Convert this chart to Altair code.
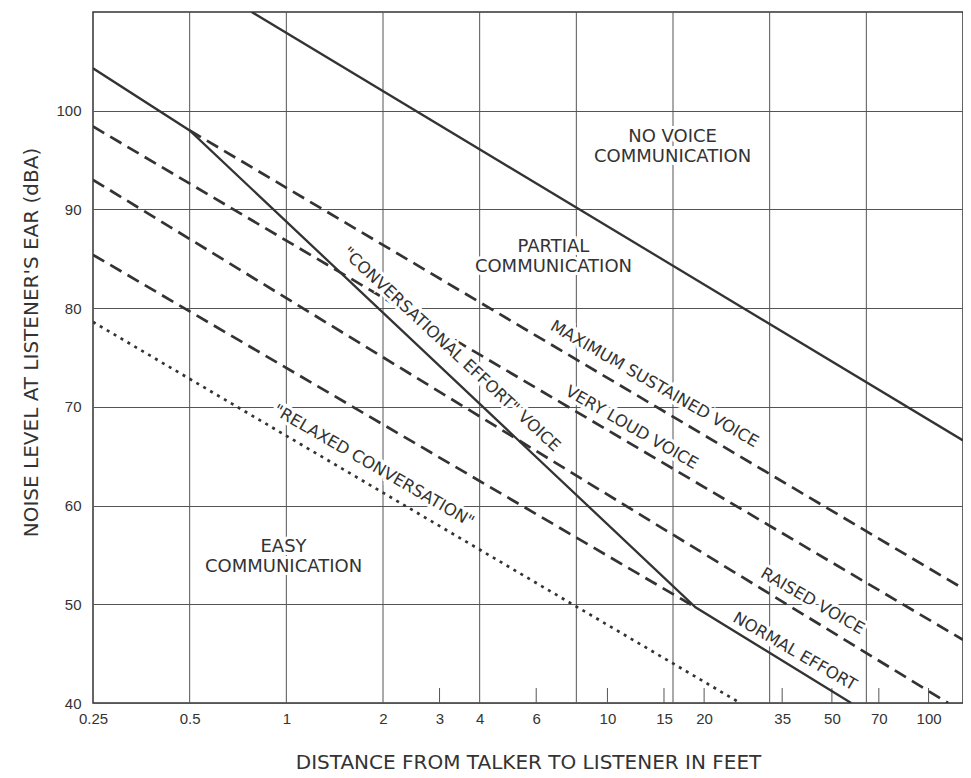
import altair as alt
import pandas as pd

# ---------------- axis values ----------------
x_grid = [0.5, 1, 2, 4, 8, 16, 32, 64]
x_labels = [0.25, 0.5, 1, 2, 3, 4, 6, 10, 15, 20, 35, 50, 70, 100]
x_minor = [3, 6, 10, 15, 20, 35, 50, 70, 100]
y_ticks = [40, 50, 60, 70, 80, 90, 100]

# ---------------- curves (distance in feet, noise level in dBA) ----------------
no_voice_x = [0.78, 128]
no_voice_y = [110, 66.6]
boundary_x = [0.25, 0.5, 18.8, 57.4]
boundary_y = [104.3, 98.0, 49.7, 40]
max_sust_x = [0.5, 128]
max_sust_y = [98.0, 51.6]
very_loud_x = [0.25, 128]
very_loud_y = [98.4, 46.4]
raised_x = [0.25, 115]
raised_y = [93.0, 40]
normal_x = [0.25, 18.8]
normal_y = [85.4, 49.7]
relaxed_x = [0.25, 25.9]
relaxed_y = [78.6, 40]

# ---------------- annotations ----------------
region_text = ["NO VOICE", "COMMUNICATION", "PARTIAL", "COMMUNICATION", "EASY", "COMMUNICATION"]
region_x = [15.95, 15.95, 6.79, 6.79, 0.98, 0.98]
region_y = [97.35, 95.3, 86.2, 84.2, 55.8, 53.8]

flat_text = ["MAXIMUM SUSTAINED VOICE", "VERY LOUD VOICE", "RAISED VOICE",
             "NORMAL EFFORT", "\"RELAXED CONVERSATION\""]
flat_x = [14.0, 11.9, 43.5, 38.3, 1.87]
flat_y = [72.3, 67.9, 50.3, 45.2, 64.0]

steep_text = ["\"CONVERSATIONAL EFFORT\" VOICE"]
steep_x = [3.26]
steep_y = [75.8]

W, H = 870, 691
INK = "#333333"


def series(name, xs, ys):
    return pd.DataFrame({"series": name, "order": list(range(len(xs))),
                         "distance": xs, "level": ys})


solid_df = pd.concat([series("no_voice", no_voice_x, no_voice_y),
                      series("boundary", boundary_x, boundary_y)])
dashed_df = pd.concat([series("max", max_sust_x, max_sust_y),
                       series("very_loud", very_loud_x, very_loud_y),
                       series("raised", raised_x, raised_y),
                       series("normal", normal_x, normal_y)])
dotted_df = series("relaxed", relaxed_x, relaxed_y)

xscale = alt.Scale(type="log", domain=[0.25, 128], nice=False)
yscale = alt.Scale(domain=[40, 110], nice=False, zero=False)

x_axis = alt.Axis(values=x_labels, format="~g", grid=False, ticks=False, domain=False,
                  labelFont="Liberation Sans", labelFontSize=15, labelColor=INK,
                  labelPadding=8, labelFlush=False,
                  title="DISTANCE FROM TALKER TO LISTENER IN FEET",
                  titleFont="DejaVu Sans", titleFontSize=20, titleFontWeight="normal",
                  titleColor=INK, titleY=65, titleBaseline="alphabetic")
y_axis = alt.Axis(values=y_ticks, grid=True, gridColor="#555555", gridWidth=1,
                  ticks=False, domain=False,
                  labelFont="Liberation Sans", labelFontSize=15, labelColor=INK,
                  labelPadding=12,
                  title="NOISE LEVEL AT LISTENER'S EAR (dBA)",
                  titleFont="DejaVu Sans", titleFontSize=20, titleFontWeight="normal",
                  titleColor=INK, titleX=-56, titleY=330, titleBaseline="alphabetic")

X = alt.X("distance:Q", scale=xscale, axis=x_axis)
Y = alt.Y("level:Q", scale=yscale, axis=y_axis)

grid = alt.Chart(pd.DataFrame({"distance": x_grid})).mark_rule(
    color="#555555", strokeWidth=1).encode(x=X)

minor = alt.Chart(pd.DataFrame({"distance": x_minor})).mark_rule(
    color="#555555", strokeWidth=1).encode(x=X, y=alt.value(H), y2=alt.value(H - 15))

solid = alt.Chart(solid_df).mark_line(color=INK, strokeWidth=2.3, clip=True).encode(
    x=X, y=Y, detail="series:N", order="order:Q")
dashed = alt.Chart(dashed_df).mark_line(color=INK, strokeWidth=2.7, strokeDash=[13, 7],
                                        clip=True).encode(
    x=X, y=Y, detail="series:N", order="order:Q")
dotted = alt.Chart(dotted_df).mark_line(color=INK, strokeWidth=2.7, strokeDash=[3, 5],
                                        clip=True).encode(
    x=X, y=Y, detail="series:N", order="order:Q")


def labels(texts, xs, ys, angle, size):
    df = pd.DataFrame({"label": texts, "distance": xs, "level": ys})
    halo = alt.Chart(df).mark_text(angle=angle, fontSize=size, font="DejaVu Sans",
                                   align="center", baseline="middle",
                                   stroke="white", strokeWidth=6, color="white").encode(
        x=X, y=Y, text="label:N")
    txt = alt.Chart(df).mark_text(angle=angle, fontSize=size, font="DejaVu Sans",
                                  align="center", baseline="middle", color=INK).encode(
        x=X, y=Y, text="label:N")
    return [halo, txt]


layers = [grid, minor, solid, dashed, dotted]
layers += labels(region_text, region_x, region_y, 0, 18)
layers += labels(flat_text, flat_x, flat_y, 30, 16.5)
layers += labels(steep_text, steep_x, steep_y, 43, 16.5)

chart = alt.layer(*layers).properties(
    width=W, height=H,
    autosize=alt.AutoSizeParams(type="none"),
    padding={"left": 85, "top": 4, "right": 0, "bottom": 73},
    background="white",
).configure_view(stroke=INK, strokeWidth=1.5)

chart.save("out.html", embed_options={"renderer": "svg", "actions": False})
